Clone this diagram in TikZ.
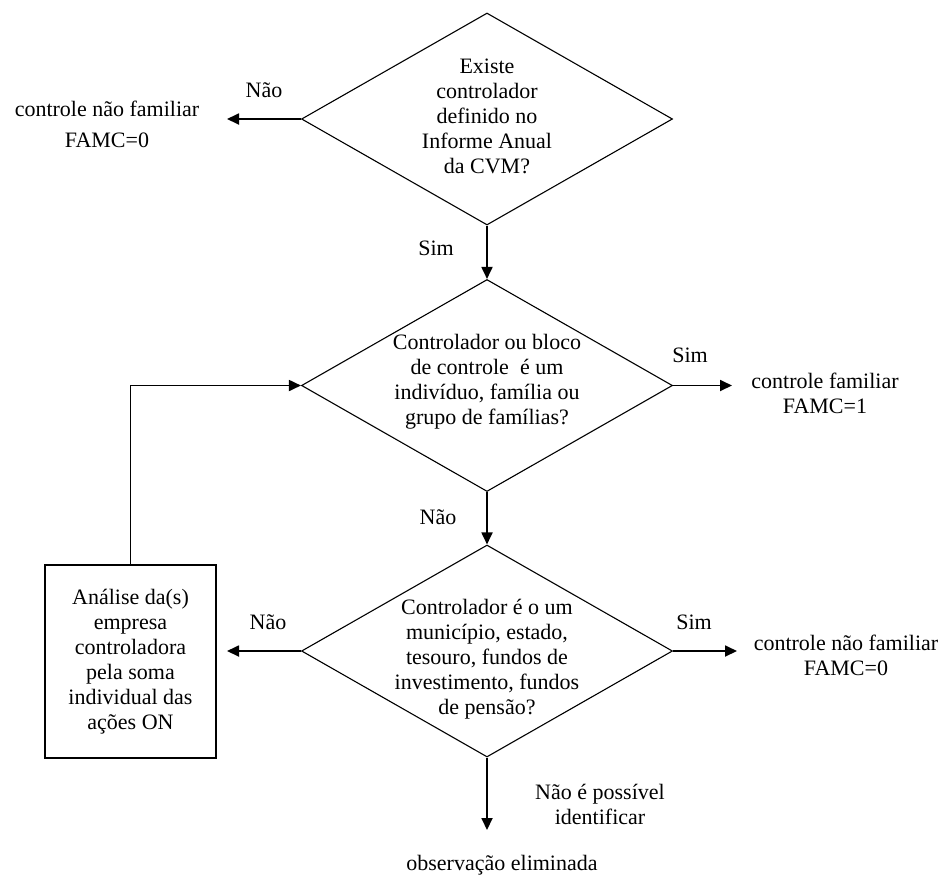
\documentclass[tikz,border=0pt]{standalone}
\usepackage{fontspec}
\setmainfont{Liberation Serif}
\usetikzlibrary{shapes.geometric,arrows.meta}
\begin{document}
\begin{tikzpicture}[x=1pt,y=-1pt,
  dia/.style={draw,shape=diamond,line width=1.1pt,minimum width=371pt,minimum height=212pt,inner sep=0pt},
  txt/.style={align=center,font=\fontsize{22}{25}\selectfont,inner sep=0pt},
  arr/.style={line width=1.8pt,-{Triangle[length=12pt,width=11pt]}},
  boxnode/.style={draw,line width=1.5pt,minimum width=171pt,minimum height=193pt,inner sep=0pt,align=center,font=\fontsize{22}{25}\selectfont}]
\useasboundingbox (0,0) rectangle (944,876);
% decisions
\node[dia] (d1) at (487,119) {};
\node[dia] (d2) at (487,385.5) {};
\node[dia] (d3) at (487,651) {};
\node[txt] (t1) at (487,116) {Existe\\controlador\\definido no\\Informe Anual\\da CVM?};
\node[txt] (t2) at (487,382) {Controlador ou bloco\\de controle\ \ é um\\indivíduo, família ou\\grupo de famílias?};
\node[txt] (t3) at (487,659) {Controlador é o um\\município, estado,\\tesouro, fundos de\\investimento, fundos\\de pensão?};
\node[boxnode] (box) at (130.5,661.5) {Análise da(s)\\empresa\\controladora\\pela soma\\individual das\\ações ON};
% outcomes
\node[txt] (o1) at (107,124.5) {controle não familiar\\[6pt]FAMC=0};
\node[txt] (o2) at (825,393) {controle familiar\\FAMC=1};
\node[txt] (o3) at (846,655.5) {controle não familiar\\FAMC=0};
\node[txt] (o4) at (502,865) {observação eliminada};
% end points
\coordinate (e1) at (227,119);
\coordinate (e2) at (732,385.5);
\coordinate (e3) at (737,651);
\coordinate (e4) at (227,651);
\coordinate (e5) at (487,830);
% connectors
\draw[arr] (d1.west) -- (e1);
\draw[arr] (d1.south) -- (d2.north);
\draw[arr] (d2.east) -- (e2);
\draw[arr] (d2.south) -- (d3.north);
\draw[arr] (d3.east) -- (e3);
\draw[arr] (d3.west) -- (e4);
\draw[arr] (d3.south) -- (e5);
\draw[arr] (box.north) |- (d2.west);
% labels
\node[txt] (l1) at (264,90) {Não};
\node[txt] (l2) at (436,248) {Sim};
\node[txt] (l3) at (690,355) {Sim};
\node[txt] (l4) at (438,517) {Não};
\node[txt] (l5) at (268,622) {Não};
\node[txt] (l6) at (694,622) {Sim};
\node[txt] (l7) at (600,804) {Não é possível\\identificar};
\end{tikzpicture}
\end{document}
